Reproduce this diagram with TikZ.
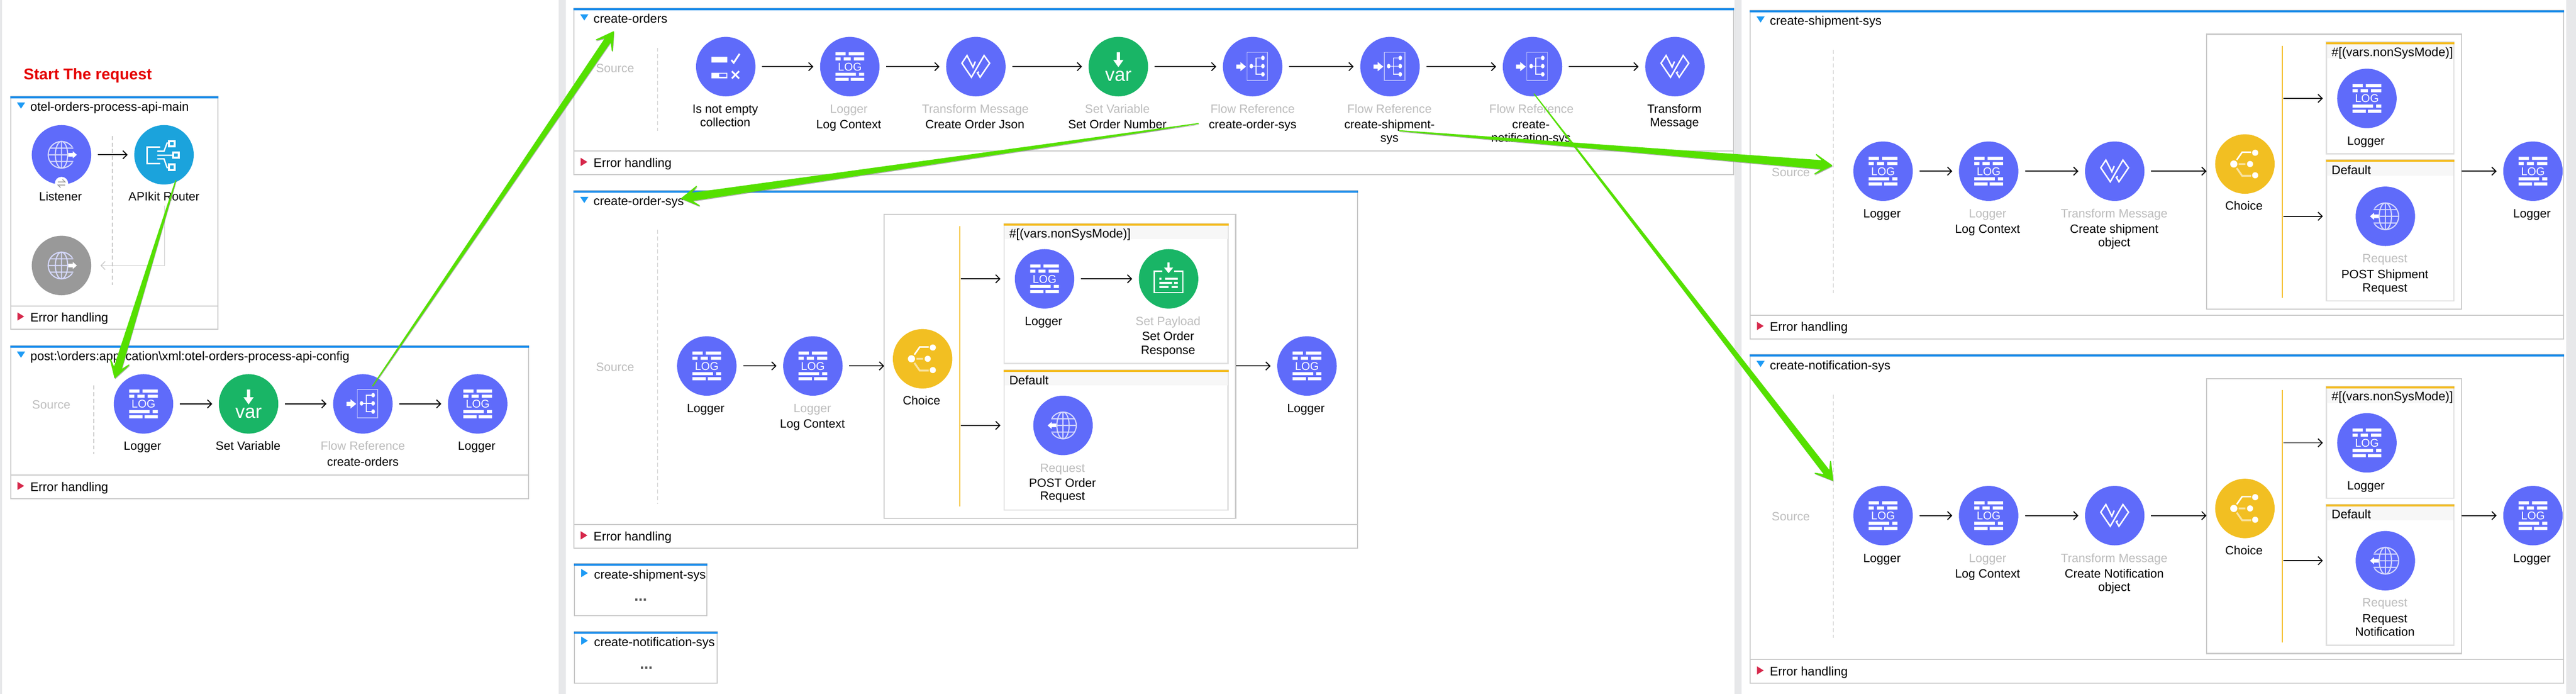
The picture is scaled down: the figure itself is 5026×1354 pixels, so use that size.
\documentclass[tikz,border=0pt]{standalone}
\usepackage{fontspec}
\setmainfont{Liberation Sans}
\usetikzlibrary{arrows.meta,calc}
\definecolor{mulepurple}{HTML}{5F6BFA}
\definecolor{mulegreen}{HTML}{19B566}
\definecolor{muleyellow}{HTML}{F2BF22}
\definecolor{muleblue}{HTML}{1BA3DC}
\definecolor{mulegray}{HTML}{999999}
\definecolor{barblue}{HTML}{1B8DEB}
\definecolor{triblue}{HTML}{1E9BF5}
\definecolor{trired}{HTML}{D6284B}
\definecolor{frameg}{HTML}{C9C9C9}
\definecolor{branchg}{HTML}{E0E0E0}
\definecolor{hdrg}{HTML}{F7F7F7}
\definecolor{gutter}{HTML}{E7E8EA}
\definecolor{softtext}{HTML}{BDBDBD}
\definecolor{pale}{HTML}{D5D8FC}
\definecolor{paleframe}{HTML}{B4B9FC}
\definecolor{paleyel}{HTML}{F9E3A0}
\definecolor{arrowgreen}{HTML}{55E000}
\definecolor{barbar}{HTML}{F4BC22}
\tikzset{
  lbl/.style={anchor=base,inner sep=0pt,font=\fontsize{23.5}{28}\selectfont,text=black},
  glbl/.style={lbl,text=softtext},
  hd/.style={anchor=base west,inner sep=0pt,font=\fontsize{24.2}{28}\selectfont,text=black},
  logtxt/.style={anchor=base,inner sep=0pt,font=\fontsize{22}{24}\selectfont,text=white},
  vartxt/.style={anchor=base,inner sep=0pt,font=\fontsize{37}{40}\selectfont,text=white},
  ballnode/.style={circle,inner sep=0pt,minimum size=116pt,outer sep=13pt},
  panelbox/.style={rectangle,draw=frameg,line width=2pt,fill=white,inner sep=0pt,outer sep=0pt},
  choicebox/.style={rectangle,draw=frameg,line width=2.4pt,fill=white,inner sep=0pt,outer sep=0pt},
  branchbox/.style={rectangle,draw=branchg,line width=2.4pt,fill=white,inner sep=0pt,outer sep=0pt},
  panelline/.style={draw=frameg,line width=2pt},
  srcdash/.style={draw=frameg,line width=1.6pt,dash pattern=on 8pt off 5pt},
  yline/.style={draw=barbar,line width=2pt},
  flow/.style={draw=black,line width=1.9pt,-{Straight Barb[length=8pt,width=16pt]}},
  backflow/.style={draw=frameg,line width=1.6pt,-{Straight Barb[length=8pt,width=16pt]},shorten >=5pt},
  greenfx/.style={fill=arrowgreen,draw=arrowgreen,line width=2pt,line join=round},
  greenshade/.style={fill=black!55,draw=black!55,line width=1pt,line join=round,opacity=.45}
}
\newcounter{txn}
\newcommand{\tx}[4]{\stepcounter{txn}\node[#1] (tx\arabic{txn}) at (#2,#3+8) {#4};}
\newcommand{\boxnode}[6]{%
  \pgfmathsetmacro\bw{(#4)-(#2)}\pgfmathsetmacro\bh{(#5)-(#3)}%
  \pgfmathsetmacro\bx{((#2)+(#4))/2}\pgfmathsetmacro\by{((#3)+(#5))/2}%
  \node[#6,minimum width=\bw pt,minimum height=\bh pt] (#1) at (\bx,\by) {};}
\newcommand{\flowpanel}[7]{%
  \boxnode{#1}{#2}{#3}{#4}{#5}{panelbox}
  \fill[barblue] (#2-1,#3) rectangle (#4+1,#3+4);
  \fill[triblue] (#2+12,#3+12) -- (#2+28,#3+12) -- (#2+20,#3+24) -- cycle;
  \tx{hd}{#2+38}{#3+21}{#7}
  \draw[panelline] (#2,#6) -- (#4,#6);
  \pgfmathsetmacro\ey{(#5+#6)/2}
  \fill[trired] (#2+13,\ey-10) -- (#2+26,\ey-2) -- (#2+13,\ey+6) -- cycle;
  \tx{hd}{#2+38}{\ey}{Error handling}
}
\newcommand{\minipanel}[7]{%
  \boxnode{#1}{#2}{#3}{#4}{#5}{panelbox}
  \fill[barblue] (#2-1,#3) rectangle (#4+1,#3+4);
  \fill[triblue] (#2+13,#3+10) -- (#2+26,#3+18) -- (#2+13,#3+26) -- cycle;
  \tx{hd}{#2+38}{#3+21}{#7}
  \tx{lbl,text=black!65,font=\bfseries\fontsize{30}{30}\selectfont}{#6}{#3+65}{...}
}
\newcommand{\branch}[7]{%
  \boxnode{#1}{#2}{#3}{#4}{#5}{branchbox}
  \fill[hdrg] (#2+1,#3) rectangle (#4-1,#6);
  \fill[barbar] (#2-1,#3) rectangle (#4+1,#3+4);
  \tx{hd}{#2+10}{#3+20}{#7}
}
\newcommand{\ball}[5]{\node[ballnode,fill=#4] (#1) at (#2,#3) {};
  \begin{scope}[shift={(#1.center)}]#5\end{scope}}
% ---- icons (local pixel offsets from the ball centre)
\newcommand{\icoLog}{%
  \fill[white] (-28,-28) rectangle (-8,-22) (-2,-28) rectangle (28,-22)
    (-28,-18) rectangle (-18,-12) (-12,-18) rectangle (2,-12) (8,-18) rectangle (28,-12)
    (-28,12) rectangle (12,18) (18,12) rectangle (28,18)
    (-28,22) rectangle (-2,28) (2,22) rectangle (28,28);
  \tx{logtxt}{0}{0}{LOG}}
\newcommand{\icoWeave}{%
  \draw[draw=white,line width=2.8pt,line join=miter]
    (-1,-10) -- (-5.6,1) -- (-17.3,-21.7) -- (-27.3,-6.7) -- (-8.7,20.7)
    -- (16,-21.7) -- (26.9,-6.7) -- (8.2,20.7) -- (3,12) -- (6,10);}
\newcommand{\icoVar}{%
  \fill[white] (-3.2,-28) rectangle (3.2,-13) (-10,-13) -- (10,-13) -- (0,1) -- cycle;
  \tx{vartxt}{0}{20}{var}}
\newcommand{\icoRef}{%
  \draw[draw=paleframe,line width=1.6pt] (-11,-28) rectangle (29,27);
  \fill[white] (-32,-4) -- (-24,-4) -- (-24,-9) -- (-13,0) -- (-24,9) -- (-24,4) -- (-32,4) -- cycle;
  \draw[draw=white,line width=1.6pt] (-2.6,-1) -- (20,-1) (20,-17) -- (6.5,-17) -- (6.5,15) -- (20,15);
  \fill[white] (-2.6,-1) ellipse (3.5 and 4.5) (20,-17) ellipse (3.5 and 4.5)
    (20,-1) ellipse (3.5 and 4.5) (20,15) ellipse (3.5 and 4.5);}
\newcommand{\icoGlobe}{%
  \begin{scope}[y=1pt]
  \draw[draw=pale,line width=2.2pt] (35:26) arc[start angle=35,end angle=325,radius=26];
  \draw[draw=pale,line width=2.2pt] (0,0) ellipse (12 and 26) (0,-26) -- (0,26)
     (-23,-13) -- (23,-13) (-23,13) -- (23,13) (-26,0) -- (12,0);
  \fill[white] (13,-3.5) -- (22,-3.5) -- (22,-7) -- (30,0) -- (22,7) -- (22,3.5) -- (13,3.5) -- cycle;
  \end{scope}}
\newcommand{\icoGlobeLeft}{\begin{scope}[xscale=-1]\icoGlobe\end{scope}}
\newcommand{\icoApi}{%
  \draw[draw=white,line width=2.6pt] (-7,-15) -- (-33,-15) -- (-33,17) -- (-7,17);
  \draw[draw=white,line width=2.6pt] (-13,-7) -- (0,-7) -- (6,-23) -- (10,-23)
     (-13,1) -- (18,1) (-13,8) -- (0,8) -- (6,25) -- (10,25);
  \draw[draw=white,line width=4pt] (10,-27) rectangle (21,-17) (18,-4) rectangle (29,6) (10,19) rectangle (21,30);}
\newcommand{\icoCheck}{%
  \fill[white] (-28,-19) rectangle (3,-8) (-28,12) rectangle (3,23);
  \fill[mulepurple] (-13,14) rectangle (1,20);
  \draw[draw=white,line width=3.4pt] (11,-13) -- (15.5,-7.5) -- (27,-25)
     (12,9) -- (26,23) (12,23) -- (26,9);}
\newcommand{\icoChoice}{%
  \draw[draw=white,line width=3pt] (-16,-8) -- (-5.5,-23) -- (12,-23);
  \draw[draw=paleyel,line width=3.6pt] (-12,0) -- (1,0) (-16,8) -- (-5.5,23) -- (12,23);
  \fill[white] (-21.7,0) circle (7) (10,0) circle (6) (20,-22) circle (6) (20,22) circle (6);}
\newcommand{\icoPayload}{%
  \draw[draw=white,line width=2.8pt] (-12,-15) -- (-28,-15) -- (-28,27) -- (28,27) -- (28,-15) -- (11,-15);
  \fill[white] (-2,-32) rectangle (2,-22) (-9,-22) -- (9,-22) -- (0,-11) -- cycle
    (-18,-2) rectangle (-14,2) (-7,-2) rectangle (18,2)
    (-18,6) rectangle (7,10) (11,6) rectangle (18,10)
    (-18,14) rectangle (0,18) (6,14) rectangle (18,18);}
% ---- green tapered annotation arrow
\newcommand{\greenarrow}[3]{%
  \coordinate (#2n) at ($(#2)!18pt!(#1)$);
  \coordinate (#2b) at ($(#2)!32pt!(#1)$);
  \coordinate (#2na) at ($(#2n)!#3pt!90:(#2)$);
  \coordinate (#2nb) at ($(#2n)!#3pt!-90:(#2)$);
  \coordinate (#2ba) at ($(#2b)!19pt!90:(#2)$);
  \coordinate (#2bb) at ($(#2b)!19pt!-90:(#2)$);
  \path[greenshade,transform canvas={shift={(1pt,-2pt)}}] (#1) -- (#2na) -- (#2ba) -- (#2) -- (#2bb) -- (#2nb) -- cycle;
  \path[greenfx] (#1) -- (#2na) -- (#2ba) -- (#2) -- (#2bb) -- (#2nb) -- cycle;}
% ---- the two right-hand flows share a layout
\newcommand{\sysflow}[6]{%
  \flowpanel{#1panel}{3415}{20}{5002}{661}{615}{#2}
  \tx{glbl}{3494}{336}{Source}
  \draw[srcdash] (3577,98) -- (3577,572);
  \ball{#1a}{3674}{334}{mulepurple}{\icoLog}
  \ball{#1b}{3880}{334}{mulepurple}{\icoLog}
  \ball{#1c}{4126}{334}{mulepurple}{\icoWeave}
  \tx{lbl}{3672}{417}{Logger}
  \tx{glbl}{3878}{417}{Logger}
  \tx{lbl}{3878}{447}{Log Context}
  \tx{glbl}{4125}{417}{Transform Message}
  \tx{lbl}{4125}{447}{#3}
  \tx{lbl}{4125}{473}{#4}
  \boxnode{#1box}{4305}{67}{4803}{603}{choicebox}
  \ball{#1ch}{4380}{320}{muleyellow}{\icoChoice}
  \tx{lbl}{4378}{402}{Choice}
  \coordinate (#1yt) at (4453,89);
  \coordinate (#1yb) at (4453,581);
  \draw[yline] (#1yt) -- (#1yb);
  \branch{#1bra}{4539}{82}{4788}{300}{114}{\#[(vars.nonSysMode)]}
  \branch{#1brb}{4539}{312}{4788}{587}{343}{Default}
  \ball{#1l}{4618}{192}{mulepurple}{\icoLog}
  \tx{lbl}{4616}{275}{Logger}
  \ball{#1r}{4654}{422}{mulepurple}{\icoGlobeLeft}
  \tx{glbl}{4653}{504}{Request}
  \tx{lbl}{4653}{535}{#5}
  \tx{lbl}{4653}{561}{#6}
  \ball{#1z}{4942}{334}{mulepurple}{\icoLog}
  \tx{lbl}{4940}{417}{Logger}
  \draw[flow] (#1a) -- (#1b);
  \draw[flow] (#1b) -- (#1c);
  \draw[flow] (#1c.east) -- (#1c.east -| #1box.west);
  \draw[flow,shorten <=2pt,shorten >=7pt] (#1yt |- #1l) -- (#1bra.west |- #1l);
  \draw[flow,shorten <=2pt,shorten >=7pt] (#1yt |- #1r) -- (#1brb.west |- #1r);
  \draw[flow] (#1z.west -| #1box.east) -- (#1z.west);
}
\begin{document}
\begin{tikzpicture}[x=1pt,y=-1pt]
\useasboundingbox (0,0) rectangle (5026,1354);
\fill[white] (0,0) rectangle (5026,1354);
\fill[gutter] (0,0) rectangle (4,1354) (1090,0) rectangle (1104,1354)
  (3384,0) rectangle (3398,1354) (5007,0) rectangle (5026,1354);

\tx{lbl,anchor=base west,text=red!90!black,font=\bfseries\fontsize{30.4}{32}\selectfont}{46}{147}{Start The request}

% ===== otel-orders-process-api-main
\flowpanel{pa}{21}{188}{425}{642}{597}{otel-orders-process-api-main}
\draw[srcdash] (219,265) -- (219,556);
\ball{listener}{120}{302}{mulepurple}{\icoGlobe}
\node[circle,fill=white,minimum size=26pt,inner sep=0pt] (badge) at (120,358) {};
\draw[draw=mulegray,line width=1.4pt] (113,355) -- (127,355) -- (122,350) (127,361) -- (113,361) -- (118,366);
\ball{api}{320}{302}{muleblue}{\icoApi}
\ball{grayball}{120}{518}{mulegray}{\icoGlobe}
\tx{lbl}{118}{384}{Listener}
\tx{lbl}{320}{384}{APIkit Router}
\draw[flow] (listener) -- (api);
\coordinate (apiout) at (321,401);
\draw[backflow] (apiout) |- (grayball.east);

% ===== post:\orders
\flowpanel{pb}{21}{674}{1031}{973}{927}{post:\textbackslash orders:application\textbackslash xml:otel-orders-process-api-config}
\tx{glbl}{100}{790}{Source}
\draw[srcdash] (183,752) -- (183,886);
\ball{ba}{280}{788}{mulepurple}{\icoLog}
\ball{bb}{485}{788}{mulegreen}{\icoVar}
\ball{bc}{708}{788}{mulepurple}{\icoRef}
\ball{bd}{932}{788}{mulepurple}{\icoLog}
\tx{lbl}{278}{870}{Logger}
\tx{lbl}{484}{870}{Set Variable}
\tx{glbl}{708}{870}{Flow Reference}
\tx{lbl}{708}{901}{create-orders}
\tx{lbl}{930}{870}{Logger}
\draw[flow] (ba) -- (bb);
\draw[flow] (bb) -- (bc);
\draw[flow] (bc) -- (bd);

% ===== create-orders
\flowpanel{pc}{1120}{16}{3382}{341}{295}{create-orders}
\tx{glbl}{1200}{133}{Source}
\draw[srcdash] (1283,93) -- (1283,255);
\ball{ca}{1416}{130}{mulepurple}{\icoCheck}
\ball{cb}{1658}{130}{mulepurple}{\icoLog}
\ball{cc}{1904}{130}{mulepurple}{\icoWeave}
\ball{cd}{2182}{130}{mulegreen}{\icoVar}
\ball{ce}{2444}{130}{mulepurple}{\icoRef}
\ball{cf}{2712}{130}{mulepurple}{\icoRef}
\ball{cg}{2990}{130}{mulepurple}{\icoRef}
\ball{ch}{3268}{130}{mulepurple}{\icoWeave}
\tx{lbl}{1415}{213}{Is not empty}
\tx{lbl}{1415}{239}{collection}
\tx{glbl}{1656}{213}{Logger}
\tx{lbl}{1656}{243}{Log Context}
\tx{glbl}{1903}{213}{Transform Message}
\tx{lbl}{1902}{243}{Create Order Json}
\tx{glbl}{2180}{213}{Set Variable}
\tx{lbl}{2180}{243}{Set Order Number}
\tx{glbl}{2444}{213}{Flow Reference}
\tx{lbl}{2444}{243}{create-order-sys}
\tx{glbl}{2711}{213}{Flow Reference}
\tx{lbl}{2711}{243}{create-shipment-}
\tx{lbl}{2711}{269}{sys}
\tx{glbl}{2988}{213}{Flow Reference}
\tx{lbl}{2987}{243}{create-}
\tx{lbl}{2987}{269}{notification-sys}
\tx{lbl}{3267}{213}{Transform}
\tx{lbl}{3267}{239}{Message}
\draw[flow] (ca) -- (cb);
\draw[flow] (cb) -- (cc);
\draw[flow] (cc) -- (cd);
\draw[flow] (cd) -- (ce);
\draw[flow] (ce) -- (cf);
\draw[flow] (cf) -- (cg);
\draw[flow] (cg) -- (ch);

% ===== create-order-sys
\flowpanel{pd}{1120}{372}{2649}{1070}{1023}{create-order-sys}
\tx{glbl}{1200}{716}{Source}
\draw[srcdash] (1283,448) -- (1283,983);
\ball{da}{1379}{714}{mulepurple}{\icoLog}
\ball{db}{1586}{714}{mulepurple}{\icoLog}
\tx{lbl}{1377}{797}{Logger}
\tx{glbl}{1585}{797}{Logger}
\tx{lbl}{1585}{827}{Log Context}
\boxnode{dbox}{1725}{418}{2411}{1011}{choicebox}
\ball{dch}{1800}{700}{muleyellow}{\icoChoice}
\tx{lbl}{1798}{782}{Choice}
\coordinate (dyt) at (1873,441);
\coordinate (dyb) at (1873,988);
\draw[yline] (dyt) -- (dyb);
\branch{dbra}{1959}{436}{2396}{709}{466}{\#[(vars.nonSysMode)]}
\branch{dbrb}{1959}{722}{2396}{995}{752}{Default}
\ball{dl}{2038}{544}{mulepurple}{\icoLog}
\ball{dp}{2280}{544}{mulegreen}{\icoPayload}
\ball{dr}{2074}{830}{mulepurple}{\icoGlobeLeft}
\ball{dz}{2550}{714}{mulepurple}{\icoLog}
\tx{lbl}{2036}{627}{Logger}
\tx{glbl}{2279}{627}{Set Payload}
\tx{lbl}{2279}{656}{Set Order}
\tx{lbl}{2279}{683}{Response}
\tx{glbl}{2073}{913}{Request}
\tx{lbl}{2073}{942}{POST Order}
\tx{lbl}{2073}{968}{Request}
\tx{lbl}{2548}{797}{Logger}
\draw[flow] (da) -- (db);
\draw[flow] (db.east) -- (db.east -| dbox.west);
\draw[flow,shorten <=2pt,shorten >=7pt] (dyt |- dl) -- (dbra.west |- dl);
\draw[flow,shorten <=2pt,shorten >=7pt] (dyt |- dr) -- (dbrb.west |- dr);
\draw[flow] (dl) -- (dp);
\draw[flow] (dz.west -| dbox.east) -- (dz.west);

% ===== collapsed flows
\minipanel{pe}{1121}{1100}{1379}{1201}{1250}{create-shipment-sys}
\minipanel{pf}{1121}{1232}{1399}{1333}{1261}{create-notification-sys}

% ===== right column
\sysflow{e}{create-shipment-sys}{Create shipment}{object}{POST Shipment}{Request}
\begin{scope}[yshift=-672pt]
\sysflow{f}{create-notification-sys}{Create Notification}{object}{Request}{Notification}
\end{scope}

% ===== green annotation arrows
\coordinate (g1s) at (343,352); \coordinate (g1t) at (224,737);
\coordinate (g2s) at (727,753); \coordinate (g2t) at (1197,62);
\coordinate (g3s) at (2338,241); \coordinate (g3t) at (1330,387);
\coordinate (g4s) at (2730,255); \coordinate (g4t) at (3574,323);
\coordinate (g5s) at (2993,183); \coordinate (g5t) at (3576,937);
\greenarrow{g1s}{g1t}{7}
\greenarrow{g2s}{g2t}{6}
\greenarrow{g3s}{g3t}{7}
\greenarrow{g4s}{g4t}{8}
\greenarrow{g5s}{g5t}{6}
\end{tikzpicture}
\end{document}
